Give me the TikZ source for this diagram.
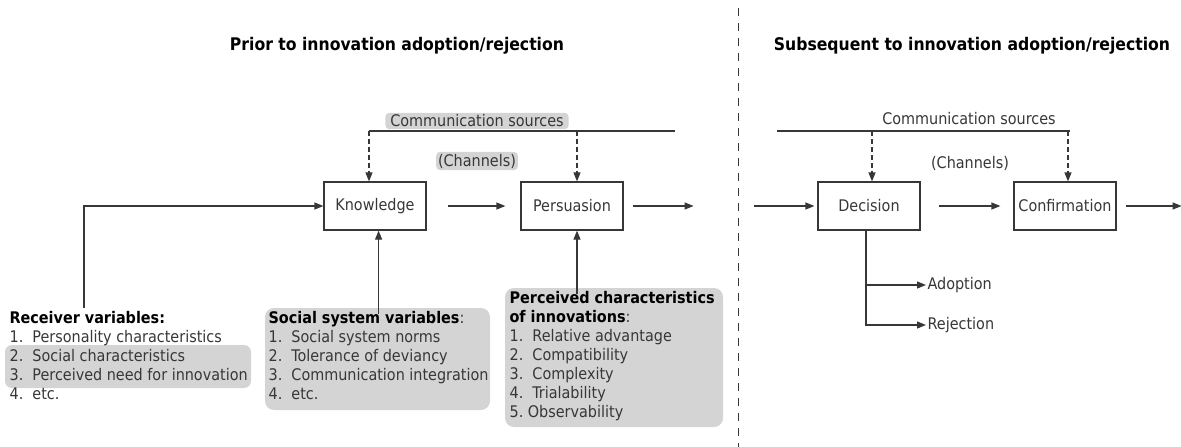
\documentclass[tikz,border=0pt]{standalone}
\usepackage{fontspec}
\setmainfont{DejaVu Sans Condensed}
\usetikzlibrary{arrows.meta,positioning}

\definecolor{ink}{RGB}{55,55,55}
\definecolor{panelgray}{RGB}{212,212,212}

\tikzset{
    stage/.style={draw=ink, minimum width=102pt, minimum height=48pt, inner sep=0pt, text=ink},
    flow/.style={draw=ink, -{Triangle[length=9pt,width=7pt]}},
    feed/.style={flow, dash pattern=on 5pt off 3pt},
    tag/.style={fill=panelgray, rounded corners=4pt, inner xsep=5pt, inner ysep=2pt, text=ink},
    listing/.style={align=left, anchor=north west, inner sep=0pt, text=ink,
        font=\fontsize{16}{19}\selectfont},
    heading/.style={font=\bfseries\fontsize{17.4}{20}\selectfont},
}

\begin{document}
\begin{tikzpicture}[
    x=1pt,y=1pt,
    yscale=-1,xscale=1,
    font=\fontsize{16}{19}\selectfont,
    every path/.append style={line width=1.2pt},
]
    \useasboundingbox (0,0) rectangle (1181,447);

    % titles
    \node[heading] (prior)  at (397,46) {Prior to innovation adoption/rejection};
    \node[heading] (subseq) at (972,46) {Subsequent to innovation adoption/rejection};
    \coordinate (splitT) at (738,8);
    \coordinate (splitB) at (738,447);
    \draw[ink, line width=1pt, dash pattern=on 8pt off 7pt] (splitT) -- (splitB);

    % backgrounds
    \fill[panelgray, rounded corners=7pt] (5,345) rectangle (251,388);
    \fill[panelgray, rounded corners=9pt] (265,308) rectangle (490,410);
    \fill[panelgray, rounded corners=9pt] (505,288) rectangle (723,427);

    % stages
    \node[stage] (know) at (375,206) {Knowledge};
    \node[stage] (pers) at (572,206) {Persuasion};
    \node[stage] (deci) at (869,206) {Decision};
    \node[stage] (conf) at (1065,206) {Confirmation};

    % sources
    \coordinate (busL)    at (369,131);
    \coordinate (busLend) at (675,131);
    \node[tag] (srcL)  at (477,121) {Communication sources};
    \node[tag, inner xsep=2pt] (chanL) at (477,161) {(Channels)};
    \draw[ink] (busL) -- (busLend);
    \draw[feed] (busL) -- (busL |- know.north);
    \draw[feed] ([xshift=5pt]busL -| pers.north) -- ([xshift=5pt]pers.north);

    \coordinate (busR)    at (777,131);
    \coordinate (busRend) at (1070,131);
    \node[text=ink] (srcR)  at (969,119) {Communication sources};
    \node[text=ink] (chanR) at (970,163) {(Channels)};
    \draw[ink] (busR) -- (busRend);
    \draw[feed] ([xshift=3pt]busR -| deci.north) -- ([xshift=3pt]deci.north);
    \draw[feed] ([xshift=3pt]busR -| conf.north) -- ([xshift=3pt]conf.north);

    % variables
    \node[listing] (recv) at (9,310.8) {
        \textcolor{black}{\textbf{Receiver variables:}}\\
        1.\ \ Personality characteristics\\
        2.\ \ Social characteristics\\
        3.\ \ Perceived need for innovation\\
        4.\ \ etc.
    };
    \node[listing] (soc) at (268,310.8) {
        \textcolor{black}{\textbf{Social system variables}}:\\
        1.\ \ Social system norms\\
        2.\ \ Tolerance of deviancy\\
        3.\ \ Communication integration\\
        4.\ \ etc.
    };
    \node[listing] (perc) at (509,290.8) {
        \textcolor{black}{\textbf{Perceived characteristics}}\\
        \textcolor{black}{\textbf{of innovations}}:\\
        1.\ \ Relative advantage\\
        2.\ \ Compatibility\\
        3.\ \ Complexity\\
        4.\ \ Trialability\\
        5.~Observability
    };

    % flow
    \coordinate (recvin) at (84,308);
    \draw[flow] (recvin) |- (know.west);
    \draw[flow] ([yshift=3pt]soc.north) -- (soc.north |- know.south);
    \draw[flow] ([xshift=5pt,yshift=3pt]perc.north -| pers.south) -- ([xshift=5pt]pers.south);
    \draw[flow] ([xshift=21pt]know.east) -- ([xshift=-15pt]pers.west);
    \draw[flow] ([xshift=9pt]pers.east) -- ([xshift=70pt]pers.east);
    \draw[flow] ([xshift=-63pt]deci.west) -- ([xshift=-3pt]deci.west);
    \draw[flow] ([xshift=18pt]deci.east) -- ([xshift=-13pt]conf.west);
    \draw[flow] ([xshift=9pt]conf.east) -- ([xshift=65pt]conf.east);

    % outcomes
    \node[anchor=west, inner sep=1pt, text=ink] (adopt) at (926,285) {Adoption};
    \node[anchor=west, inner sep=1pt, text=ink] (rej)   at (926,325) {Rejection};
    \draw[flow] ([xshift=-3pt]deci.south) |- (adopt.west);
    \draw[flow] ([xshift=-3pt]deci.south) |- (rej.west);
\end{tikzpicture}
\end{document}
